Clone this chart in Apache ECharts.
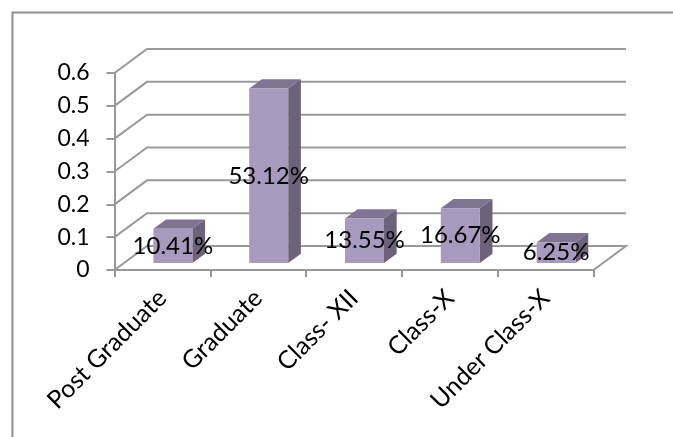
<!DOCTYPE html>
<html>
<head>
<meta charset="utf-8">
<style>html,body{margin:0;padding:0;background:#fff;overflow:hidden}#c{width:673px;height:437px}</style>
<script src="https://cdn.jsdelivr.net/npm/echarts@6/dist/echarts.min.js"></script>
</head>
<body>
<div id="c"></div>
<script>
const categories = ['Post Graduate', 'Graduate', 'Class- XII', 'Class-X', 'Under Class-X'];
const values = [0.1041, 0.5312, 0.1355, 0.1667, 0.0625];
const yTicks = [0, 0.1, 0.2, 0.3, 0.4, 0.5, 0.6];

const FONT = 'Lato';
const GREY = '#999999';
const WALL = [32.5, -24];
const BAR_SHIFT_X = 10.5, BAR_SHIFT_Y = -7, BAR_DEPTH = 0.39, BAR_WIDTH = 0.407;
const FRONT = '#A899BF', SIDE = '#6C627A', TOP = '#7F7491';

const chart = echarts.init(document.getElementById('c'), null, {renderer: 'canvas'});

function wallItem(params, api) {
  const cs = params.coordSys;
  const v = api.value(1);
  const y = api.coord([0, v])[1];
  const x0 = cs.x, x1 = cs.x + cs.width;
  const pts = [[x0, y], [x0 + WALL[0], y + WALL[1]], [x1 + WALL[0], y + WALL[1]]];
  if (v === 0) pts.push([x1, y]);
  return {type: 'polyline', shape: {points: pts}, style: {stroke: GREY, lineWidth: 2, fill: null}};
}

function barItem(params, api) {
  const i = api.value(0);
  const base = api.coord([i, 0]);
  const top = api.coord([i, api.value(1)]);
  const w = api.size([1, 0])[0] * BAR_WIDTH;
  const dx = WALL[0] * BAR_DEPTH, dy = WALL[1] * BAR_DEPTH;
  const l = base[0] + BAR_SHIFT_X - w / 2, r = l + w;
  const b = base[1] + BAR_SHIFT_Y, t = top[1] + BAR_SHIFT_Y;
  return {type: 'group', children: [
    {type: 'polygon', shape: {points: [[l, t], [r, t], [r + dx, t + dy], [l + dx, t + dy]]}, style: {fill: TOP}},
    {type: 'polygon', shape: {points: [[r, t], [r + dx, t + dy], [r + dx, b + dy], [r, b]]}, style: {fill: SIDE}},
    {type: 'polygon', shape: {points: [[l, t], [r, t], [r, b], [l, b]]}, style: {fill: FRONT}}
  ]};
}

function labelItem(params, api) {
  const i = api.value(0), v = api.value(1);
  const base = api.coord([i, 0]);
  const top = api.coord([i, v]);
  return {type: 'text', style: {
    x: base[0] + BAR_SHIFT_X, y: (base[1] + top[1]) / 2 + BAR_SHIFT_Y,
    text: (v * 100).toFixed(2) + '%',
    align: 'center', verticalAlign: 'middle',
    font: '24px ' + FONT, fill: '#000'
  }};
}

chart.setOption({
  animation: false,
  backgroundColor: '#fff',
  tooltip: {show: false},
  graphic: [{type: 'rect', shape: {x: 12.5, y: 12.5, width: 720, height: 500}, style: {fill: null, stroke: '#8E8E8E', lineWidth: 2}, silent: true}],
  grid: {left: 114.5, right: 79.5, top: 73, bottom: 167, containLabel: false},
  xAxis: {
    type: 'category', data: categories,
    axisLine: {lineStyle: {color: GREY, width: 2}},
    axisTick: {show: true, length: 7, alignWithLabel: false, lineStyle: {color: GREY, width: 2}},
    axisLabel: {rotate: 45, interval: 0, margin: 24, color: '#000', fontFamily: FONT, fontSize: 25},
    splitLine: {show: false}
  },
  yAxis: {
    type: 'value', min: 0, max: 0.6, interval: 0.1,
    axisLine: {show: true, lineStyle: {color: GREY, width: 2}},
    axisTick: {show: true, length: 8, lineStyle: {color: GREY, width: 2}},
    axisLabel: {margin: 25, color: '#000', fontFamily: FONT, fontSize: 23, formatter: v => String(+v.toFixed(1))},
    splitLine: {show: false}
  },
  series: [
    {type: 'custom', z: 1, silent: true, clip: false, renderItem: wallItem, data: yTicks.map(t => [0, t])},
    {type: 'custom', z: 2, silent: true, clip: false, renderItem: barItem, data: values.map((v, i) => [i, v])},
    {type: 'custom', z: 3, silent: true, clip: false, renderItem: labelItem, data: values.map((v, i) => [i, v])}
  ]
});
</script>
</body>
</html>
